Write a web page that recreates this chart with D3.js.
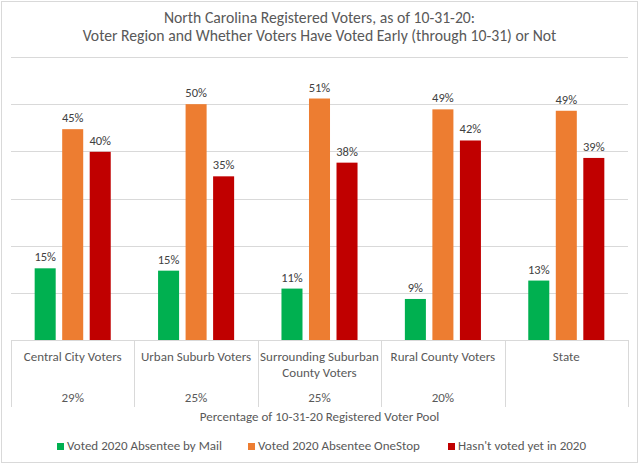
<!DOCTYPE html>
<html>
<head>
<meta charset="utf-8">
<script src="https://cdn.jsdelivr.net/npm/d3@7"></script>
<style>
  body { margin: 0; background: #fff; }
  text { font-family: Carlito, Calibri, Lato, sans-serif; fill: #595959; }
</style>
</head>
<body>
<div id="chart"></div>
<script>
const WIDTH = 639;
const HEIGHT = 464;

// chart data
const titleLines = [
  "North Carolina Registered Voters, as of 10-31-20:",
  "Voter Region and Whether Voters Have Voted Early (through 10-31) or Not"
];
const categories = ["Central City Voters", "Urban Suburb Voters", "Surrounding Suburban County Voters", "Rural County Voters", "State"];
const categoryLines = [["Central City Voters"], ["Urban Suburb Voters"], ["Surrounding Suburban", "County Voters"], ["Rural County Voters"], ["State"]];
const poolShare = ["29%", "25%", "25%", "20%", ""];
const seriesNames = ["Voted 2020 Absentee by Mail", "Voted 2020 Absentee OneStop", "Hasn't voted yet in 2020"];
const mailVotes = [0.152, 0.147, 0.109, 0.087, 0.126];
const oneStopVotes = [0.447, 0.500, 0.512, 0.489, 0.486];
const notVoted = [0.399, 0.347, 0.376, 0.423, 0.386];
const yTicks = [0, 0.1, 0.2, 0.3, 0.4, 0.5, 0.6];
const axisTitle = "Percentage of 10-31-20  Registered Voter Pool";

const colors = ["#00B050", "#ED7D31", "#C00000"];
const seriesValues = [mailVotes, oneStopVotes, notVoted];

const PLOT = { LEFT: 11, RIGHT: 628, TOP: 57, BOTTOM: 340 };

const svg = d3.select("#chart")
  .append("svg")
  .attr("width", WIDTH)
  .attr("height", HEIGHT);

// outer frame
svg.append("rect")
  .attr("x", 1.5).attr("y", 1.5)
  .attr("width", WIDTH - 3).attr("height", HEIGHT - 3)
  .attr("fill", "#fff")
  .attr("stroke", "#D9D9D9");

svg.selectAll(".title")
  .data(titleLines)
  .enter()
  .append("text")
  .attr("class", "title")
  .attr("x", WIDTH / 2)
  .attr("y", (d, i) => 23 + i * 18)
  .attr("text-anchor", "middle")
  .style("font-size", "15.7px")
  .text(d => d);

const x = d3.scaleBand()
  .domain(categories)
  .range([PLOT.LEFT, PLOT.RIGHT]);

const x1 = d3.scaleBand()
  .domain(seriesNames)
  .range([0, x.bandwidth()])
  .paddingInner(0.236)
  .paddingOuter(0.86);

const y = d3.scaleLinear()
  .domain([0, 0.6])
  .range([PLOT.BOTTOM, PLOT.TOP]);

// gridlines
svg.append("g")
  .selectAll("line")
  .data(yTicks)
  .enter()
  .append("line")
  .attr("x1", PLOT.LEFT)
  .attr("x2", PLOT.RIGHT)
  .attr("y1", d => Math.round(y(d)) + 0.5)
  .attr("y2", d => Math.round(y(d)) + 0.5)
  .attr("stroke", "#D9D9D9");

// category dividers
const bounds = categories.map(c => x(c)).concat([PLOT.RIGHT]);
svg.append("g")
  .selectAll("line")
  .data(bounds)
  .enter()
  .append("line")
  .attr("x1", d => Math.round(d) + 0.5)
  .attr("x2", d => Math.round(d) + 0.5)
  .attr("y1", PLOT.BOTTOM)
  .attr("y2", 407)
  .attr("stroke", "#D9D9D9");

const rows = categories.map((c, i) => ({
  category: c,
  values: seriesNames.map((s, j) => ({ series: s, value: seriesValues[j][i], color: colors[j] }))
}));

const groups = svg.append("g")
  .selectAll(".group")
  .data(rows)
  .enter()
  .append("g")
  .attr("class", "group")
  .attr("transform", d => `translate(${x(d.category)},0)`);

groups.selectAll("rect")
  .data(d => d.values)
  .enter()
  .append("rect")
  .attr("x", d => x1(d.series))
  .attr("y", d => y(d.value))
  .attr("width", x1.bandwidth())
  .attr("height", d => y(0) - y(d.value))
  .attr("fill", d => d.color);

groups.selectAll(".label")
  .data(d => d.values)
  .enter()
  .append("text")
  .attr("class", "label")
  .attr("x", d => x1(d.series) + x1.bandwidth() / 2)
  .attr("y", d => y(d.value) - 7)
  .attr("text-anchor", "middle")
  .style("font-size", "12.5px")
  .style("fill", "#404040")
  .text(d => Math.round(d.value * 100) + "%");

// category labels
const catLabels = svg.append("g")
  .selectAll("text")
  .data(categories)
  .enter()
  .append("text")
  .attr("x", d => x(d) + x.bandwidth() / 2)
  .attr("y", 361)
  .attr("text-anchor", "middle")
  .style("font-size", "13px");

catLabels.selectAll("tspan")
  .data((d, i) => categoryLines[i])
  .enter()
  .append("tspan")
  .attr("x", function () { return this.parentNode.getAttribute("x"); })
  .attr("dy", (d, i) => i === 0 ? 0 : 16)
  .text(d => d);

svg.append("g")
  .selectAll("text")
  .data(categories)
  .enter()
  .append("text")
  .attr("x", d => x(d) + x.bandwidth() / 2)
  .attr("y", 402)
  .attr("text-anchor", "middle")
  .style("font-size", "13px")
  .text((d, i) => poolShare[i]);

svg.append("text")
  .attr("x", (PLOT.LEFT + PLOT.RIGHT) / 2)
  .attr("y", 421)
  .attr("text-anchor", "middle")
  .style("font-size", "13px")
  .text(axisTitle);

// legend
const legendX = [57, 248, 448];
const legend = svg.append("g")
  .selectAll("g")
  .data(seriesNames)
  .enter()
  .append("g")
  .attr("transform", (d, i) => `translate(${legendX[i]},443)`);

legend.append("rect")
  .attr("width", 7)
  .attr("height", 7)
  .attr("fill", (d, i) => colors[i]);

legend.append("text")
  .attr("x", 10)
  .attr("y", 7)
  .style("font-size", "13px")
  .text(d => d);
</script>
</body>
</html>
